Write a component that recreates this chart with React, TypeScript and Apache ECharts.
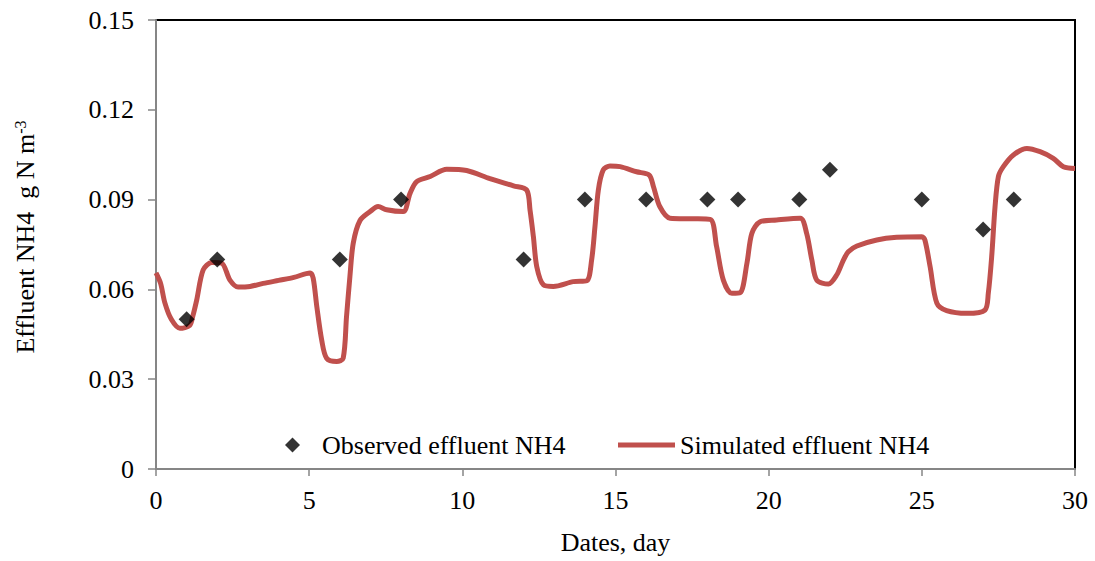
import React, { useEffect, useRef } from "react";
import * as echarts from "echarts";

const observedDays = [1, 2, 6, 8, 12, 14, 16, 18, 19, 21, 22, 25, 27, 28];
const observedValues = [0.05, 0.07, 0.07, 0.09, 0.07, 0.09, 0.09, 0.09, 0.09, 0.09, 0.1, 0.09, 0.08, 0.09];

const simulatedDays = [
  0, 0.15, 0.29, 0.5, 0.78, 1.1, 1.2, 1.33, 1.54, 1.82, 2.14, 2.42, 2.68, 3.07, 3.5, 4, 4.5, 5.03, 5.13, 5.25,
  5.41, 5.57, 5.9, 6.11, 6.22, 6.33, 6.44, 6.66, 6.99, 7.25, 7.53, 8.07, 8.29, 8.51, 8.95, 9.49, 10.14, 10.9,
  11.67, 12.1, 12.21, 12.32, 12.43, 12.65, 12.97, 13.62, 14.06, 14.22, 14.33, 14.44, 14.6, 14.82, 15.15, 15.69,
  16.1, 16.24, 16.45, 16.78, 17.5, 18.09, 18.3, 18.52, 18.8, 19.07, 19.29, 19.45, 19.72, 20.26, 21.03, 21.24,
  21.41, 21.57, 21.95, 22.22, 22.44, 22.6, 22.88, 23.53, 24.18, 25.0, 25.1, 25.27, 25.49, 25.81, 26.47, 27.06,
  27.17, 27.28, 27.39, 27.5, 27.66, 27.99, 28.43, 28.86, 29.29, 29.62, 30,
];
const simulatedValues = [
  0.0655, 0.062, 0.0555, 0.05, 0.047, 0.048, 0.051, 0.0565, 0.0665, 0.069, 0.0688, 0.063, 0.0608, 0.061, 0.062,
  0.063, 0.064, 0.0655, 0.0638, 0.0542, 0.043, 0.037, 0.0359, 0.037, 0.051, 0.0643, 0.0755, 0.083, 0.086, 0.0877,
  0.0866, 0.086, 0.092, 0.096, 0.0977, 0.1001, 0.0997, 0.097, 0.0946, 0.0932, 0.0865, 0.0776, 0.0676, 0.0615,
  0.061, 0.0626, 0.0629, 0.0698, 0.081, 0.0932, 0.0999, 0.1012, 0.101, 0.0993, 0.0982, 0.0943, 0.0876, 0.0838,
  0.0836, 0.0834, 0.0743, 0.0631, 0.0587, 0.0589, 0.0687, 0.0787, 0.0826, 0.0832, 0.0838, 0.0787, 0.0698,
  0.0631, 0.0618, 0.0648, 0.0698, 0.0726, 0.0745, 0.0765, 0.0774, 0.0776, 0.0765, 0.0676, 0.0554, 0.0529, 0.052,
  0.0531, 0.0587, 0.0709, 0.0876, 0.0977, 0.101, 0.1049, 0.1071, 0.106, 0.1038, 0.101, 0.1004,
];

const xTitle = "Dates, day";
const observedName = "Observed effluent NH4";
const simulatedName = "Simulated effluent NH4";

const FONT = "Liberation Serif";
const FS = 26;

export default function App() {
  const ref = useRef<HTMLDivElement>(null);
  useEffect(() => {
    if (!ref.current) return;
    const chart = echarts.init(ref.current, null, { renderer: "svg" });
    chart.setOption({
      animation: false,
      backgroundColor: "#ffffff",
      textStyle: { fontFamily: FONT, color: "#000" },
      grid: {
        left: 156,
        right: 20,
        top: 20,
        bottom: 92,
        show: true,
        borderColor: "#000",
        borderWidth: 2,
      },
      legend: [
        {
          left: 280,
          top: 427,
          data: [observedName],
          itemWidth: 15,
          itemHeight: 15,
          textStyle: { fontFamily: FONT, fontSize: FS, color: "#000", padding: [0, 0, 0, 17] },
        },
        {
          left: 613,
          top: 427,
          data: [{ name: simulatedName, icon: "rect" }],
          itemWidth: 57,
          itemHeight: 5,
          textStyle: { fontFamily: FONT, fontSize: FS, color: "#000" },
        },
      ],
      xAxis: {
        type: "value",
        min: 0,
        max: 30,
        interval: 5,
        name: xTitle,
        nameLocation: "middle",
        nameGap: 60,
        nameTextStyle: { fontFamily: FONT, fontSize: FS, color: "#000" },
        axisLine: { show: true, lineStyle: { color: "#868686", width: 2 } },
        axisTick: { show: true, inside: false, length: 7, lineStyle: { color: "#868686", width: 1.5 } },
        axisLabel: { fontFamily: FONT, fontSize: FS, color: "#000", margin: 18 },
        splitLine: { show: false },
      },
      yAxis: {
        type: "value",
        min: 0,
        max: 0.15,
        interval: 0.03,
        axisLine: { show: true, lineStyle: { color: "#868686", width: 2 } },
        axisTick: { show: true, inside: false, length: 8, lineStyle: { color: "#868686", width: 1.5 } },
        axisLabel: {
          fontFamily: FONT,
          fontSize: FS,
          color: "#000",
          margin: 22,
          formatter: (v: number) => (v === 0 ? "0" : v.toFixed(2)),
        },
        splitLine: { show: false },
      },
      graphic: [
        {
          type: "text",
          x: 25,
          y: 237,
          rotation: Math.PI / 2,
          style: {
            text: "Effluent NH4  g N m{sup|-3}",
            fontFamily: FONT,
            fontSize: FS,
            fill: "#000",
            align: "center",
            verticalAlign: "middle",
            rich: {
              sup: { fontFamily: FONT, fontSize: 16, fill: "#000", verticalAlign: "top", lineHeight: 26 },
            },
          },
        },
      ],
      series: [
        {
          name: simulatedName,
          type: "line",
          data: simulatedDays.map((d, i) => [d, simulatedValues[i]]),
          showSymbol: false,
          symbol: "circle",
          symbolSize: 3,
          smooth: 0.3,
          lineStyle: { color: "#C0504D", width: 5 },
          itemStyle: { color: "#C0504D" },
          z: 2,
        },
        {
          name: observedName,
          type: "scatter",
          data: observedDays.map((d, i) => [d, observedValues[i]]),
          symbol: "diamond",
          symbolSize: [16, 16],
          itemStyle: { color: "#000" },
          z: 3,
        },
      ],
    });
    return () => chart.dispose();
  }, []);
  return (
    <div
      ref={ref}
      style={{ position: "fixed", left: 0, top: 0, width: 1095, height: 561, background: "#fff" }}
    />
  );
}
